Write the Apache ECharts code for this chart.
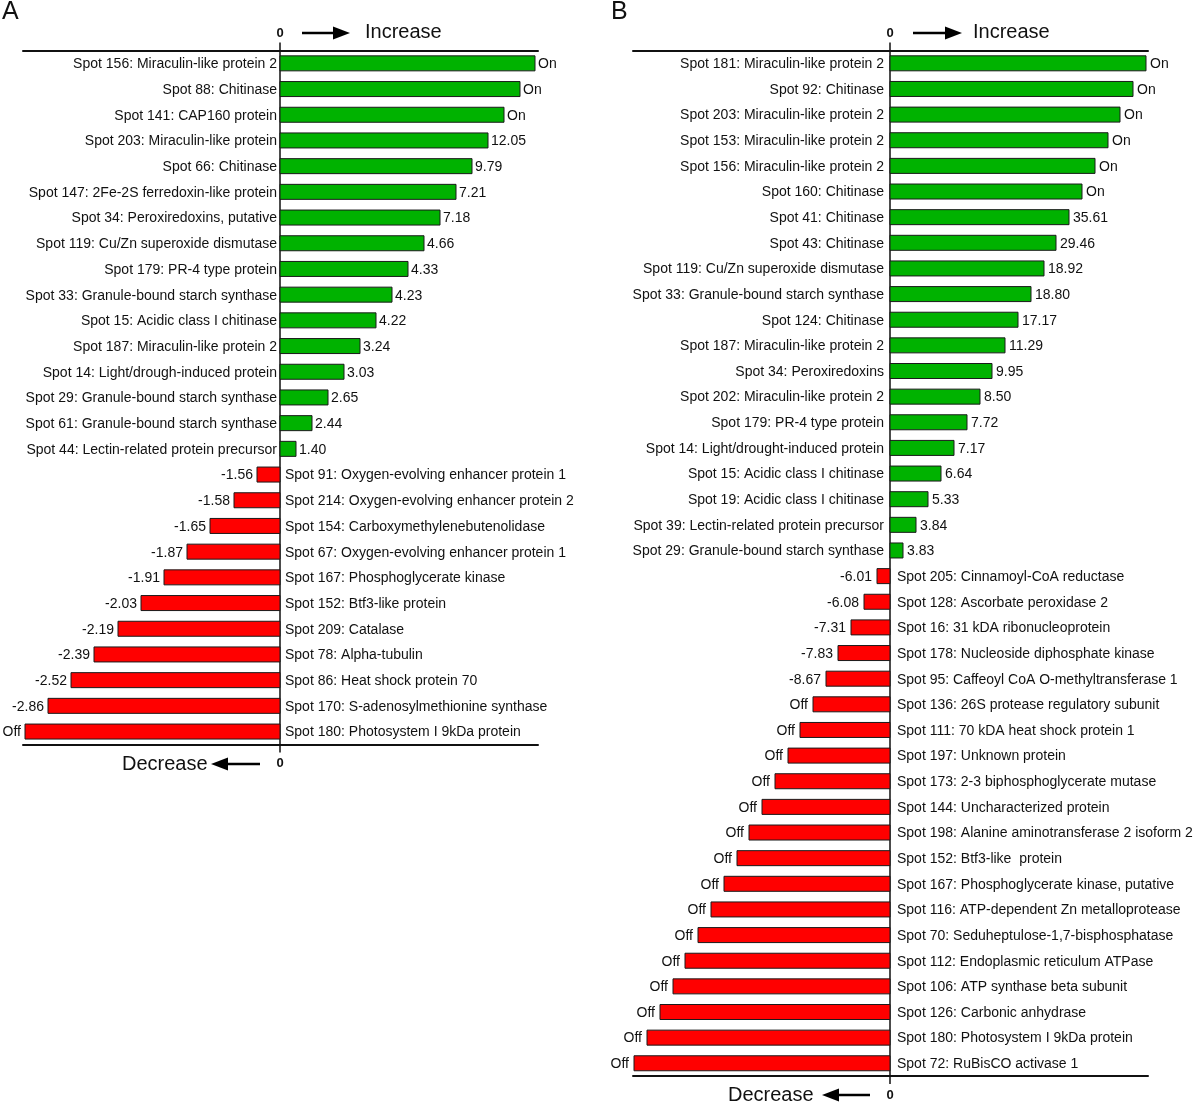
<!DOCTYPE html>
<html><head><meta charset="utf-8">
<script src="https://cdn.jsdelivr.net/npm/echarts@6/dist/echarts.min.js"></script>
<style>html,body{margin:0;padding:0;background:#fff}#c{width:1200px;height:1106px}</style>
</head><body><div id="c"></div>
<script>
// ---------- Panel A ----------
const spotsA = [
  'Spot 156: Miraculin-like protein 2','Spot 88: Chitinase','Spot 141: CAP160 protein',
  'Spot 203: Miraculin-like protein','Spot 66: Chitinase','Spot 147: 2Fe-2S ferredoxin-like protein',
  'Spot 34: Peroxiredoxins, putative','Spot 119: Cu/Zn superoxide dismutase','Spot 179: PR-4 type protein',
  'Spot 33: Granule-bound starch synthase','Spot 15: Acidic class I chitinase','Spot 187: Miraculin-like protein 2',
  'Spot 14: Light/drough-induced protein','Spot 29: Granule-bound starch synthase','Spot 61: Granule-bound starch synthase',
  'Spot 44: Lectin-related protein precursor',
  'Spot 91: Oxygen-evolving enhancer protein 1','Spot 214: Oxygen-evolving enhancer protein 2',
  'Spot 154: Carboxymethylenebutenolidase','Spot 67: Oxygen-evolving enhancer protein 1',
  'Spot 167: Phosphoglycerate kinase','Spot 152: Btf3-like protein','Spot 209: Catalase',
  'Spot 78: Alpha-tubulin','Spot 86: Heat shock protein 70','Spot 170: S-adenosylmethionine synthase',
  'Spot 180: Photosystem I 9kDa protein'
];
const foldA = ['On','On','On','12.05','9.79','7.21','7.18','4.66','4.33','4.23','4.22','3.24','3.03','2.65','2.44','1.40',
  '-1.56','-1.58','-1.65','-1.87','-1.91','-2.03','-2.19','-2.39','-2.52','-2.86','Off'];
// drawn bar length (relative units)
const barA = [255,240,224,208,192,176,160,144,128,112,96,80,64,48,32,16,
  -23,-46,-70,-93,-116,-139,-162,-186,-209,-232,-255];

// ---------- Panel B ----------
const spotsB = [
  'Spot 181: Miraculin-like protein 2','Spot 92: Chitinase','Spot 203: Miraculin-like protein 2',
  'Spot 153: Miraculin-like protein 2','Spot 156: Miraculin-like protein 2','Spot 160: Chitinase',
  'Spot 41: Chitinase','Spot 43: Chitinase','Spot 119: Cu/Zn superoxide dismutase',
  'Spot 33: Granule-bound starch synthase','Spot 124: Chitinase','Spot 187: Miraculin-like protein 2',
  'Spot 34: Peroxiredoxins','Spot 202: Miraculin-like protein 2','Spot 179: PR-4 type protein',
  'Spot 14: Light/drought-induced protein','Spot 15: Acidic class I chitinase','Spot 19: Acidic class I chitinase',
  'Spot 39: Lectin-related protein precursor','Spot 29: Granule-bound starch synthase',
  'Spot 205: Cinnamoyl-CoA reductase','Spot 128: Ascorbate peroxidase 2','Spot 16: 31 kDA ribonucleoprotein',
  'Spot 178: Nucleoside diphosphate kinase','Spot 95: Caffeoyl CoA O-methyltransferase 1',
  'Spot 136: 26S protease regulatory subunit','Spot 111: 70 kDA heat shock protein 1','Spot 197: Unknown protein',
  'Spot 173: 2-3 biphosphoglycerate mutase','Spot 144: Uncharacterized protein',
  'Spot 198: Alanine aminotransferase 2 isoform 2','Spot 152: Btf3-like  protein',
  'Spot 167: Phosphoglycerate kinase, putative','Spot 116: ATP-dependent Zn metalloprotease',
  'Spot 70: Seduheptulose-1,7-bisphosphatase','Spot 112: Endoplasmic reticulum ATPase',
  'Spot 106: ATP synthase beta subunit','Spot 126: Carbonic anhydrase','Spot 180: Photosystem I 9kDa protein',
  'Spot 72: RuBisCO activase 1'
];
const foldB = ['On','On','On','On','On','On','35.61','29.46','18.92','18.80','17.17','11.29','9.95','8.50','7.72','7.17','6.64','5.33','3.84','3.83',
  '-6.01','-6.08','-7.31','-7.83','-8.67','Off','Off','Off','Off','Off','Off','Off','Off','Off','Off','Off','Off','Off','Off','Off'];
const barB = [256,243,230,218,205,192,179,166,154,141,128,115,102,90,77,64,51,38,26,13,
  -13,-26,-39,-52,-64,-77,-90,-102,-115,-128,-141,-153,-166,-179,-192,-205,-217,-230,-243,-256];

const FONT = 'Arial, "Liberation Sans", sans-serif';
const GREEN = '#00b200', RED = '#ff0000', INK = '#111111';

function makeSeries(g, names, folds, bars, gap) {
  return {
    type: 'custom', xAxisIndex: g * 2, yAxisIndex: g,
    data: bars.map((v, i) => [v, i]),
    encode: { x: 0, y: 1 },
    renderItem: function (params, api) {
      const v = api.value(0), i = api.value(1);
      const z = api.coord([0, i]);
      const e = api.coord([v, i]);
      const h = 15, pos = v >= 0;
      const x0 = Math.min(z[0], e[0]), w = Math.abs(e[0] - z[0]);
      const ts = { fontSize: 14, fontFamily: FONT, fill: INK, verticalAlign: 'middle' };
      return { type: 'group', children: [
        { type: 'rect', shape: { x: x0, y: z[1] - h / 2, width: w, height: h },
          style: { fill: pos ? GREEN : RED, stroke: '#1a1a1a', lineWidth: 1 } },
        { type: 'text', style: Object.assign({}, ts, { text: names[i],
          x: pos ? z[0] - gap.nameL : z[0] + gap.nameR, y: z[1] + 1, align: pos ? 'right' : 'left' }) },
        { type: 'text', style: Object.assign({}, ts, { text: folds[i],
          x: pos ? e[0] + gap.valR : e[0] - gap.valL, y: z[1] + 1, align: pos ? 'left' : 'right' }) }
      ] };
    }
  };
}

function xAx(g, pos) {
  return { type: 'value', gridIndex: g, position: pos, min: -257, max: 258,
    splitLine: { show: false },
    axisLine: { show: true, onZero: false, lineStyle: { color: INK, width: 2 } },
    axisTick: { show: true, customValues: [0], length: 8, lineStyle: { color: INK, width: 1.5 } },
    axisLabel: { show: true, customValues: [0], formatter: () => '0', fontSize: 13, fontWeight: 'bold',
      fontFamily: FONT, color: INK, margin: pos === 'top' ? 11 : 13 } };
}
function yAx(g, names) {
  return { type: 'category', gridIndex: g, data: names, inverse: true,
    axisLine: { show: true, onZero: true, lineStyle: { color: INK, width: 1.5 } },
    axisTick: { show: false }, axisLabel: { show: false }, splitLine: { show: false } };
}
function arrow(x1, x2, y, dir) { // dir 1 = right, -1 = left
  const hx = dir > 0 ? x2 - 17 : x1 + 17;
  const tip = dir > 0 ? x2 : x1;
  return [
    { type: 'line', shape: dir > 0 ? { x1: x1, y1: y, x2: hx + 1, y2: y } : { x1: hx - 1, y1: y, x2: x2, y2: y },
      style: { stroke: '#000', lineWidth: 2.5 } },
    { type: 'polygon', shape: { points: [[hx, y - 6.5], [tip, y], [hx, y + 6.5]] }, style: { fill: '#000' } }
  ];
}
const big = { fontSize: 20, fontFamily: FONT, fill: INK, verticalAlign: 'middle' };

const chart = echarts.init(document.getElementById('c'), null, { renderer: 'canvas' });
chart.setOption({
  animation: false,
  backgroundColor: '#fff',
  grid: [
    { left: 23, width: 515, top: 50.5, height: 27 * 25.7 },
    { left: 633, width: 515, top: 50.5, height: 40 * 25.64 }
  ],
  xAxis: [xAx(0, 'top'), xAx(0, 'bottom'), xAx(1, 'top'), xAx(1, 'bottom')],
  yAxis: [yAx(0, spotsA), yAx(1, spotsB)],
  series: [
    makeSeries(0, spotsA, foldA, barA, { nameL: 3, nameR: 5, valR: 3, valL: 4 }),
    makeSeries(1, spotsB, foldB, barB, { nameL: 6, nameR: 7, valR: 4, valL: 5 })
  ],
  graphic: [].concat(
    [{ type: 'text', x: 2, y: 0, style: { text: 'A', fontSize: 25, fontFamily: FONT, fill: INK } },
     { type: 'text', x: 611, y: 0, style: { text: 'B', fontSize: 25, fontFamily: FONT, fill: INK } },
     { type: 'text', x: 365, y: 32, style: Object.assign({ text: 'Increase' }, big) },
     { type: 'text', x: 973, y: 32, style: Object.assign({ text: 'Increase' }, big) },
     { type: 'text', x: 122, y: 764, style: Object.assign({ text: 'Decrease' }, big) },
     { type: 'text', x: 728, y: 1095, style: Object.assign({ text: 'Decrease' }, big) }],
    arrow(302, 350, 33, 1), arrow(913, 962, 33, 1),
    arrow(211, 260, 764, -1), arrow(822, 870, 1095, -1)
  )
});
</script></body></html>
